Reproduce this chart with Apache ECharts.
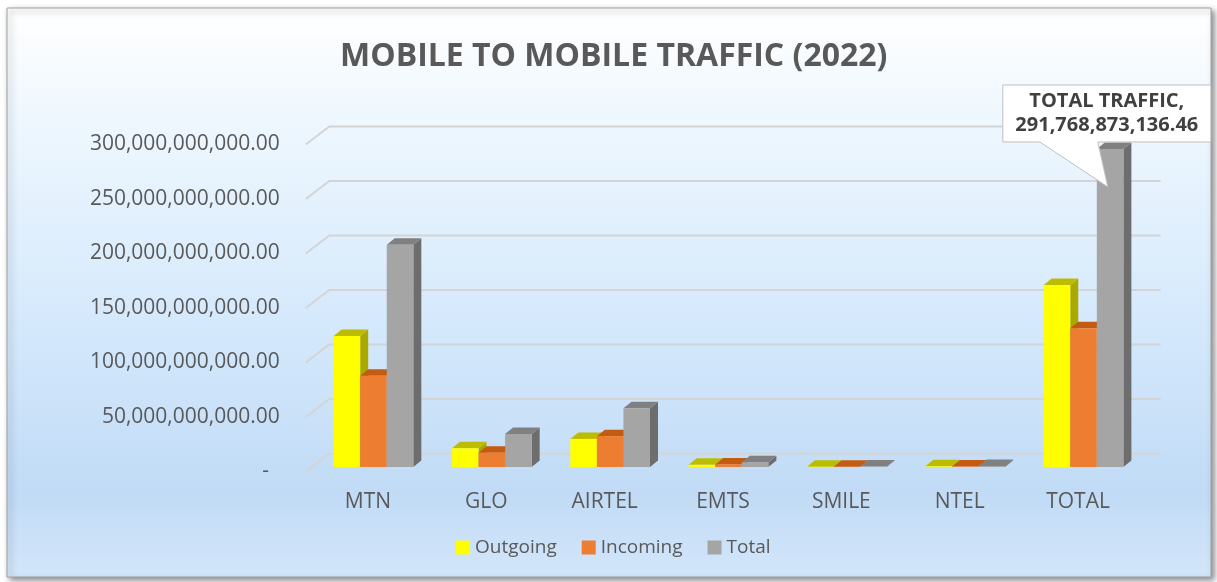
<!DOCTYPE html>
<html>
<head>
<meta charset="utf-8">
<script src="https://cdn.jsdelivr.net/npm/echarts@6/dist/echarts.min.js"></script>
<style>
html,body{margin:0;padding:0;background:#fff;}
#chart{width:1217px;height:582px;}
</style>
</head>
<body>
<div id="chart"></div>
<script>
// values
const categories = ['MTN', 'GLO', 'AIRTEL', 'EMTS', 'SMILE', 'NTEL', 'TOTAL'];
const outgoing = [120.2e9, 17.2e9, 25.8e9, 2.0e9, 0.2e9, 0.6e9, 167.0e9];
const incoming = [83.8e9, 13.1e9, 28.3e9, 2.4e9, 0.15e9, 0.4e9, 127.2e9];
const total = [204.0e9, 30.3e9, 54.0e9, 4.4e9, 0.35e9, 1.0e9, 291768873136.46];
const yTicks = [0, 50e9, 100e9, 150e9, 200e9, 250e9, 300e9];
const seriesNames = ['Outgoing', 'Incoming', 'Total'];
const calloutIndex = 6;
const calloutTitle = 'TOTAL TRAFFIC';

const palette = [
    {front: '#ffff00', top: '#bcbc00', side: '#a9a900'},
    {front: '#ed7d31', top: '#c55a11', side: '#b4561c'},
    {front: '#a5a5a5', top: '#808080', side: '#6d6d6d'}
];
const FONT = '"Open Sans", "DejaVu Sans", sans-serif';
const TXT = '#595959';

// 3D fake: wall depth, bar offset into the floor, bar depth
const WALL_X = 23.5, WALL_Y = 18;
const SHIFT_X = 5.5, SHIFT_Y = 4.5;
const DX = 8, DY = 6.5;
const BAR_RATIO = 0.2245;

const fmt = v => v.toLocaleString('en-US', {minimumFractionDigits: 2, maximumFractionDigits: 2});

/**
 * 气泡标注 (callout on the grand total bar)
 */
function callout(x, yt, v) {
    return {
        type: 'group',
        children: [{
            type: 'polygon',
            shape: {points: [[x - 94, yt - 64], [x + 114, yt - 64], [x + 114, yt - 7], [x + 1, yt - 7],
                [x + 11, yt + 38], [x - 57, yt - 7], [x - 94, yt - 7]]},
            style: {fill: '#fff', stroke: '#bfbfbf', lineWidth: 1}
        }, {
            type: 'text',
            x: x + 10, y: yt - 36,
            style: {
                text: calloutTitle + ',\n' + fmt(v),
                align: 'center', verticalAlign: 'middle',
                fontFamily: FONT, fontWeight: 'bold', fontSize: 20, lineHeight: 24,
                fill: '#404040'
            }
        }]
    };
}

function barRenderer(s) {
    return (params, api) => {
        const i = api.value(0), v = api.value(1);
        const base = api.coord([i, 0]), top = api.coord([i, v]);
        const bw = api.size([1, 0])[0] * BAR_RATIO;
        const x = base[0] - 1.5 * bw + s * bw + SHIFT_X;
        const yb = base[1] - SHIFT_Y, yt = top[1] - SHIFT_Y;
        const c = palette[s];
        const children = [
            {type: 'polygon', shape: {points: [[x + bw, yt], [x + bw + DX, yt - DY], [x + bw + DX, yb - DY], [x + bw, yb]]}, style: {fill: c.side}},
            {type: 'polygon', shape: {points: [[x, yt], [x + DX, yt - DY], [x + bw + DX, yt - DY], [x + bw, yt]]}, style: {fill: c.top}},
            {type: 'rect', shape: {x: x, y: yt, width: bw, height: yb - yt}, style: {fill: c.front}}
        ];
        if (s === 2 && params.dataIndex === calloutIndex) children.push(callout(x, yt, v));
        return {type: 'group', children: children};
    };
}

const chart = echarts.init(document.getElementById('chart'));
const values = [outgoing, incoming, total];

chart.setOption({
    backgroundColor: '#fff',
    animation: false,
    graphic: [{
        type: 'rect', z: -10, silent: true,
        shape: {x: 7, y: 8, width: 1204, height: 569},
        style: {
            fill: new echarts.graphic.LinearGradient(0, 0, 0, 1, [
                {offset: 0, color: '#ffffff'},
                {offset: 0.2, color: '#eef7fe'},
                {offset: 0.55, color: '#d5e9fc'},
                {offset: 0.85, color: '#c1dbf6'},
                {offset: 1, color: '#d3e6fa'}
            ]),
            stroke: '#a0a0a0', lineWidth: 1,
            shadowBlur: 6, shadowColor: 'rgba(0,0,0,0.45)', shadowOffsetX: 3, shadowOffsetY: 3
        }
    }],
    title: {
        text: 'MOBILE TO MOBILE TRAFFIC (2022)',
        left: 335, top: 36,
        textStyle: {fontFamily: FONT, fontWeight: 'bold', fontSize: 32, color: TXT}
    },
    legend: {
        data: seriesNames,
        left: 451, top: 533,
        icon: 'rect', itemWidth: 14, itemHeight: 14, itemGap: 25,
        textStyle: {fontFamily: FONT, fontSize: 19, color: TXT}
    },
    grid: {left: 308.8, right: 79.8, top: 144.5, bottom: 110.5},
    xAxis: {
        type: 'category', data: categories,
        axisLine: {show: false}, axisTick: {show: false},
        axisLabel: {margin: 20, fontFamily: FONT, fontSize: 21, color: TXT}
    },
    yAxis: {
        type: 'value', min: 0, max: 300e9, interval: 50e9,
        axisLine: {show: false}, axisTick: {show: false}, splitLine: {show: false},
        axisLabel: {
            margin: 29, fontFamily: FONT, fontSize: 21, color: TXT,
            formatter: v => v === 0 ? '-  ' : fmt(v)
        }
    },
    series: [{
        // back wall gridlines with the side-wall diagonal
        type: 'custom', silent: true, z: 1, clip: false,
        data: yTicks.map(v => [0, v]),
        renderItem: (params, api) => {
            const y = api.coord([0, api.value(1)])[1];
            const cs = params.coordSys;
            const x0 = cs.x - 3;
            return {
                type: 'polyline',
                shape: {points: [[x0, y], [x0 + WALL_X, y - WALL_Y], [cs.x + cs.width + WALL_X, y - WALL_Y]]},
                style: {stroke: '#d4d4d4', lineWidth: 2, fill: null}
            };
        }
    }].concat(seriesNames.map((name, s) => ({
        name: name,
        type: 'custom', z: 2 + s, clip: false,
        itemStyle: {color: palette[s].front},
        data: values[s].map((v, i) => [i, v]),
        renderItem: barRenderer(s)
    })))
});
</script>
</body>
</html>
